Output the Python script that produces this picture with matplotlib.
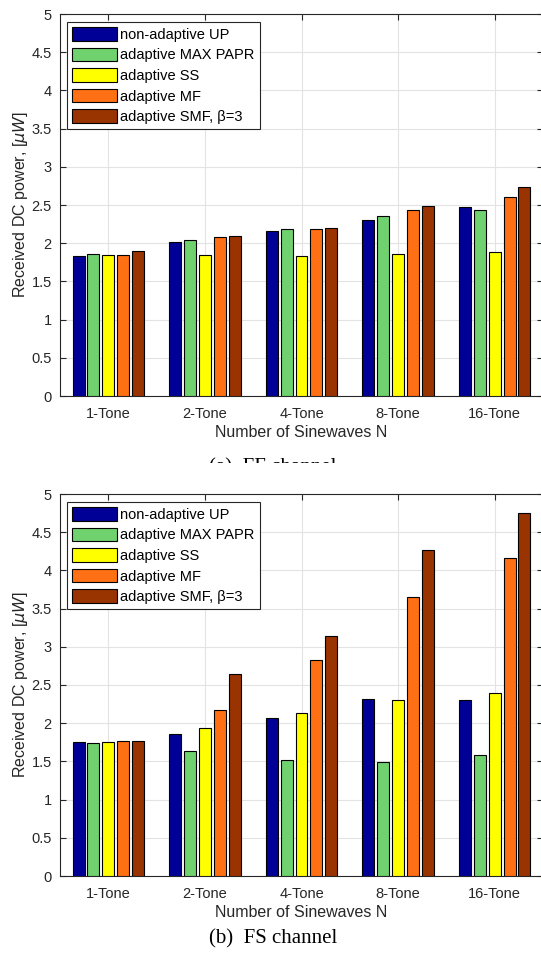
import matplotlib
matplotlib.use("Agg")
import matplotlib.pyplot as plt
from matplotlib.patches import Rectangle
import numpy as np

categories = ["1-Tone", "2-Tone", "4-Tone", "8-Tone", "16-Tone"]
series_names = ["non-adaptive UP", "adaptive MAX PAPR", "adaptive SS",
                "adaptive MF", "adaptive SMF, \u03b2=3"]

ff_up = [1.83, 2.01, 2.16, 2.31, 2.48]
ff_maxpapr = [1.86, 2.04, 2.18, 2.36, 2.43]
ff_ss = [1.85, 1.84, 1.83, 1.86, 1.89]
ff_mf = [1.85, 2.08, 2.19, 2.44, 2.61]
ff_smf = [1.90, 2.10, 2.20, 2.49, 2.74]

fs_up = [1.76, 1.86, 2.07, 2.32, 2.31]
fs_maxpapr = [1.74, 1.64, 1.52, 1.49, 1.58]
fs_ss = [1.76, 1.94, 2.14, 2.31, 2.39]
fs_mf = [1.77, 2.17, 2.83, 3.65, 4.16]
fs_smf = [1.77, 2.64, 3.14, 4.27, 4.75]

colors = ["#000096", "#6fd26f", "#ffff00", "#ff7014", "#993300"]

W, H = 541, 955
fig = plt.figure(figsize=(W / 100, H / 100), dpi=100)
plt.rcParams["font.family"] = ["Liberation Sans", "DejaVu Sans"]

dark = "#262626"


def draw(ax, data):
    x = np.arange(1, len(categories) + 1)
    n = len(data)
    gw = min(0.8, n / (n + 1.5))
    pitch = gw / n
    for i, (vals, c, name) in enumerate(zip(data, colors, series_names)):
        off = -gw / 2 + (2 * i + 1) * pitch / 2
        ax.bar(x + off, vals, width=pitch * 0.8, color=c, edgecolor="black",
               linewidth=0.8, label=name, zorder=3)
    ax.set_xlim(0.5, 5.5)
    ax.set_ylim(0, 5)
    ax.set_xticks(x)
    ax.set_xticklabels(categories)
    yt = np.arange(0, 5.01, 0.5)
    ax.set_yticks(yt)
    ax.set_yticklabels([f"{v:g}" for v in yt])
    ax.tick_params(direction="in", length=4, width=0.8, colors=dark,
                   labelsize=10.5, top=True, right=True, pad=6)
    ax.tick_params(axis="x", pad=8)
    ax.grid(True, color="#e3e3e3", linewidth=0.8, zorder=0)
    ax.set_axisbelow(True)
    for s in ax.spines.values():
        s.set_color(dark)
        s.set_linewidth(0.8)
    ax.set_xlabel("Number of Sinewaves N", fontsize=11.5, color=dark, labelpad=3)
    ax.set_ylabel(r"Received DC power, [$\mu W$]", fontsize=11.5, color=dark)
    ax.yaxis.set_label_coords(-30 / 483, 0.5)
    leg = ax.legend(loc="upper left", bbox_to_anchor=(0.0145, 0.979),
                    borderaxespad=0, fontsize=10.5, fancybox=False,
                    edgecolor=dark, framealpha=1, handlelength=3.1,
                    handleheight=1.05, handletextpad=0.2, labelspacing=0.4,
                    borderpad=0.35)
    leg.get_frame().set_linewidth(0.8)
    for t in leg.get_texts():
        t.set_color("black")


left = 60 / W
width = 483 / W
ax1 = fig.add_axes([left, 1 - 396 / H, width, 382 / H])
ax2 = fig.add_axes([left, 1 - 876 / H, width, 382 / H])

draw(ax1, [ff_up, ff_maxpapr, ff_ss, ff_mf, ff_smf])
draw(ax2, [fs_up, fs_maxpapr, fs_ss, fs_mf, fs_smf])

cap_font = ["Liberation Serif", "DejaVu Serif"]
fig.text(273 / W, 1 - 943 / H, "(b)  FS channel", ha="center", va="baseline",
         fontsize=15, family=cap_font, color="black")
fig.text(273 / W, 1 - 472 / H, "(a)  FF channel", ha="center", va="baseline",
         fontsize=15, family=cap_font, color="black")
fig.add_artist(Rectangle((0, 1 - 490 / H), 1, (490 - 462.5) / H,
                         transform=fig.transFigure, facecolor="white",
                         edgecolor="none", zorder=10))

fig.savefig("out.png", dpi=100)
